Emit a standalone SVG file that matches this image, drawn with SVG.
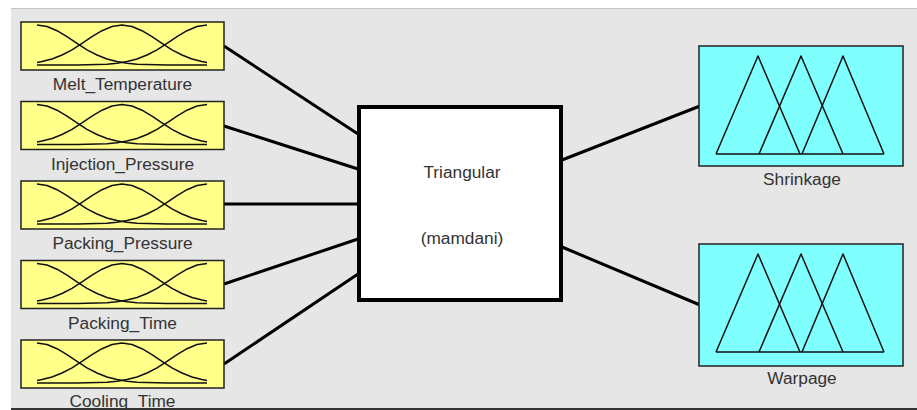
<svg xmlns="http://www.w3.org/2000/svg" xmlns:xlink="http://www.w3.org/1999/xlink" width="917" height="410" viewBox="0 0 917 410">
<style>
.in rect{fill:#ffff8a;stroke:#222;stroke-width:1.5}
.out rect{fill:#80ffff;stroke:#222;stroke-width:1.5}
.mf{fill:none;stroke:#111;stroke-width:1.5;stroke-linejoin:round}
.lbl{font-family:"Liberation Sans",Arial,sans-serif;font-size:17.3px;fill:#333;text-anchor:middle}
.conn line{stroke:#000;stroke-width:3;stroke-linecap:butt}
</style>
<defs>
<g id="gauss">
<polyline class="mf" points="16,3 26,4.5 36,8.7 46,14.7 56,21.4 66,27.8 76,33 86,37 96,39.6 106,41.2 116,42.2 126,42.6 136,42.8 146,43 186,43"/>
<polyline class="mf" points="16,40.5 21,39.6 31,37 41,33 51,27.8 61,21.4 71,14.7 81,8.7 91,4.5 101,3 111,4.5 121,8.7 131,14.7 141,21.4 151,27.8 161,33 171,37 181,39.6 186,40.5"/>
<polyline class="mf" points="186,3 176,4.5 166,8.7 156,14.7 146,21.4 136,27.8 126,33 116,37 106,39.6 96,41.2 86,42.2 76,42.6 66,42.8 56,43 16,43"/>
</g>
<g id="tri">
<polyline class="mf" points="17,108 59,10 101,108"/>
<polyline class="mf" points="60,108 102,10 144,108"/>
<polyline class="mf" points="103,108 144,10 185,108"/>
<line class="mf" x1="17" y1="108" x2="185" y2="108"/>
</g>
</defs>
<rect x="0" y="0" width="917" height="410" fill="#ffffff"/>
<rect x="11" y="8" width="906" height="402" fill="#e6e6e6"/>
<line x1="11" y1="8.5" x2="917" y2="8.5" stroke="#c4c4c4" stroke-width="1"/>
<line x1="11" y1="409" x2="917" y2="409" stroke="#333" stroke-width="2"/>

<g id="conn" class="conn">
<line x1="224" y1="46" x2="358" y2="134"/>
<line x1="224" y1="126" x2="358" y2="169"/>
<line x1="224" y1="204" x2="358" y2="204"/>
<line x1="224" y1="284" x2="358" y2="239"/>
<line x1="224" y1="364" x2="358" y2="274"/>
<line x1="562" y1="160" x2="700" y2="106"/>
<line x1="562" y1="247" x2="700" y2="305"/>
</g>

<g id="melt" class="in" transform="translate(21,22)">
<rect x="0" y="0" width="203" height="48"/>
<use xlink:href="#gauss"/>
<text class="lbl" x="101.5" y="68">Melt_Temperature</text>
</g>
<g id="injection" class="in" transform="translate(21,101.5)">
<rect x="0" y="0" width="203" height="48"/>
<use xlink:href="#gauss"/>
<text class="lbl" x="101.5" y="68">Injection_Pressure</text>
</g>
<g id="packp" class="in" transform="translate(21,181)">
<rect x="0" y="0" width="203" height="48"/>
<use xlink:href="#gauss"/>
<text class="lbl" x="101.5" y="68">Packing_Pressure</text>
</g>
<g id="packt" class="in" transform="translate(21,260.5)">
<rect x="0" y="0" width="203" height="48"/>
<use xlink:href="#gauss"/>
<text class="lbl" x="101.5" y="68">Packing_Time</text>
</g>
<g id="cool" class="in" transform="translate(21,340)">
<rect x="0" y="0" width="203" height="48"/>
<use xlink:href="#gauss"/>
<text class="lbl" x="101.5" y="67">Cooling_Time</text>
</g>

<g id="fis">
<rect x="359" y="107" width="202" height="193" fill="#ffffff" stroke="#000" stroke-width="4"/>
<text class="lbl" x="462" y="178">Triangular</text>
<text class="lbl" x="462" y="244">(mamdani)</text>
</g>

<g id="shrink" class="out" transform="translate(699,46)">
<rect x="0" y="0" width="204" height="120"/>
<use xlink:href="#tri"/>
<text class="lbl" x="103" y="139">Shrinkage</text>
</g>
<g id="warp" class="out" transform="translate(699,244)">
<rect x="0" y="0" width="204" height="122"/>
<use xlink:href="#tri"/>
<text class="lbl" x="103" y="140">Warpage</text>
</g>
</svg>
